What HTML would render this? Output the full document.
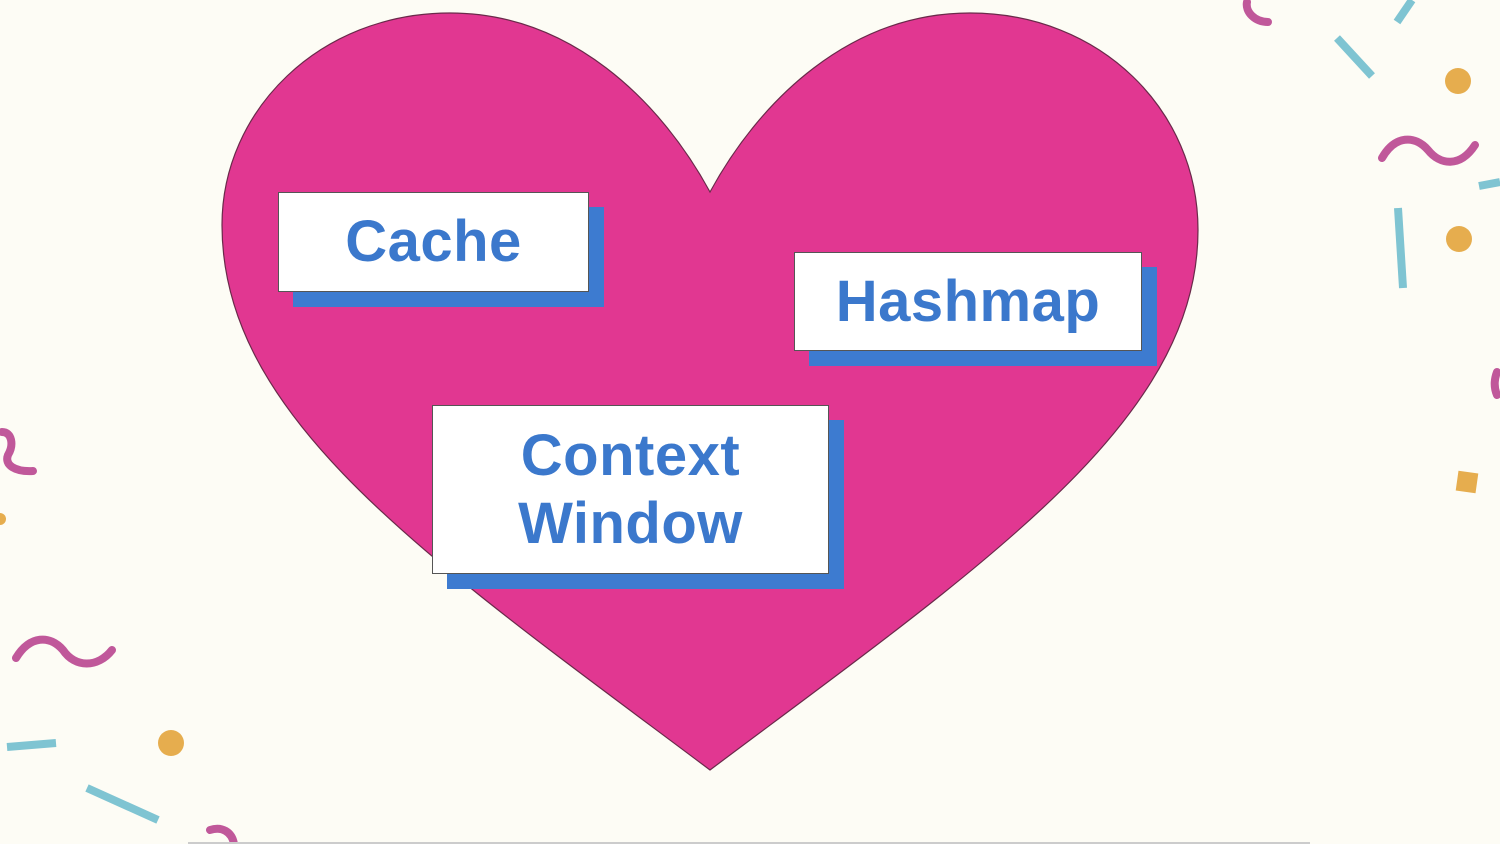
<!DOCTYPE html>
<html><head><style>
body{margin:0;width:1500px;height:844px;background:#fdfcf5;overflow:hidden;position:relative;font-family:"Liberation Sans",sans-serif}
.b{position:absolute;background:#fff;border:1.5px solid #555;box-shadow:15px 15px 0 #3d7bd0;display:flex;align-items:center;justify-content:center;text-align:center;color:#3b78cc;font-weight:bold;font-size:58px;line-height:68px;letter-spacing:0.5px}
</style></head><body>
<svg width="1500" height="844" style="position:absolute;left:0;top:0">
<path d="M710,192 C660,100 570,13 450,13 C320,13 222,110 222,225 C222,420 430,560 710,770 C990,560 1198,420 1198,230 C1198,110 1100,13 970,13 C850,13 760,100 710,192 Z" fill="#e13791" stroke="#6a2a4a" stroke-width="1.2"/>
<g fill="none" stroke-linecap="round" stroke-width="8" stroke="#c0589a">
<path d="M1247,2 C1245,12 1255,22 1268,22"/>
<path d="M1382,158 C1395,135 1415,135 1428,150 C1440,165 1460,168 1475,145"/>
<path d="M2,432 C12,432 14,445 8,455 C4,465 15,472 33,471"/>
<path d="M16,658 C30,635 50,635 63,650 C75,668 98,668 112,650"/>
<path d="M210,830 C222,826 232,832 234,844"/>
<path d="M1497,372 C1494,380 1494,388 1497,395"/>
</g>
<g stroke="#7fc4d2" stroke-width="8">
<line x1="1397" y1="22" x2="1412" y2="0"/>
<line x1="1337" y1="38" x2="1372" y2="76"/>
<line x1="1479" y1="186" x2="1500" y2="182"/>
<line x1="1398" y1="208" x2="1403" y2="288"/>
<line x1="7" y1="747" x2="56" y2="743"/>
<line x1="87" y1="788" x2="158" y2="820"/>
</g>
<g fill="#e6ad4e">
<circle cx="1458" cy="81" r="13"/>
<circle cx="1459" cy="239" r="13"/>
<circle cx="171" cy="743" r="13"/>
<circle cx="0" cy="519" r="6"/>
<rect x="1457" y="472" width="20" height="20" transform="rotate(8 1467 482)"/>
</g>
<line x1="188" y1="843" x2="1310" y2="843" stroke="#ccc" stroke-width="2"/>
</svg>
<div class="b" style="left:278px;top:192px;width:309px;height:98px">Cache</div>
<div class="b" style="left:794px;top:252px;width:346px;height:97px">Hashmap</div>
<div class="b" style="left:432px;top:405px;width:395px;height:167px">Context<br>Window</div>
</body></html>
